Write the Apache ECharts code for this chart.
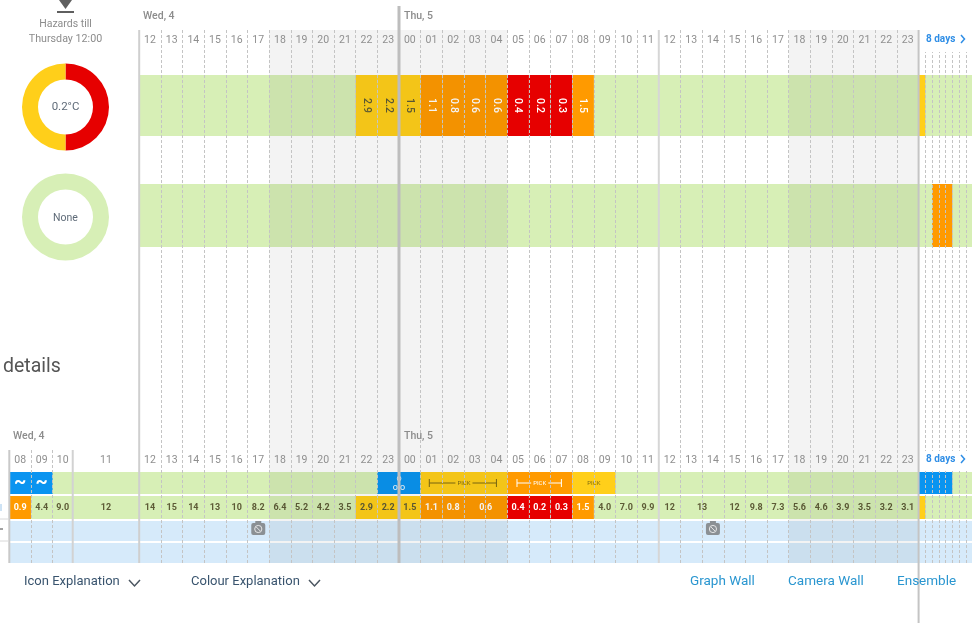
<!DOCTYPE html>
<html>
<head>
<meta charset="utf-8">
<style>
  html, body { margin: 0; padding: 0; background: #fff; }
  #chart { width: 972px; height: 623px; }
</style>
<script src="https://cdn.jsdelivr.net/npm/echarts@6/dist/echarts.min.js"></script>
</head>
<body>
<div id="chart"></div>
<script>
// hours are counted from Wed 00:00, so Thu 00 = 24 and Fri 00 = 48
const hourCols = [8, 9, 10, 11, 12, 13, 14, 15, 16, 17, 18, 19, 20, 21, 22, 23, 24, 25, 26, 27, 28, 29, 30, 31, 32, 33, 34, 35, 36, 37, 38, 39, 40, 41, 42, 43, 44, 45, 46, 47];
const dayCols = [72, 96, 120, 144, 168, 192, 216];
const nightSpans = [[18, 29], [42, 48]];

const hazardShares = [50, 50];
const hazardNames = ['red', 'yellow'];

// top panel, road temperature
const roadHours = [22, 23, 24, 25, 26, 27, 28, 29, 30, 31, 32];
const roadValues = ['2.9', '2.2', '1.5', '1.1', '0.8', '0.6', '0.6', '0.4', '0.2', '0.3', '1.5'];
const roadLevels = ['y', 'y', 'y', 'o', 'o', 'o', 'o', 'r', 'r', 'r', 'o'];
const roadDayFrom = [48];
const roadDayTo = [72];
const roadDayLevels = ['y'];

// top panel, second row
const alertFrom = [96];
const alertTo = [168];
const alertLevels = ['o'];

// bottom panel, weather band
const bandFrom = [8, 9, 23, 25, 29, 32, 48];
const bandTo = [9, 10, 25, 29, 32, 34, 168];
const bandLevels = ['b', 'b', 'b', 'y', 'o', 'y', 'b'];
const bandMarks = ['~', '~', 'o\no o', 'PICK', 'PICK', 'PICK', ''];
const whiskerFrom = [null, null, null, 25.4, 29.45, null, null];
const whiskerTo = [null, null, null, 28.5, 31.5, null, null];

// bottom panel, temperature row
const tempFrom = [8, 9, 10, 11, 12, 13, 14, 15, 16, 17, 18, 19, 20, 21, 22, 23, 24, 25, 26, 27, 29, 30, 31, 32, 33, 34, 35, 36, 37, 39, 40, 41, 42, 43, 44, 45, 46, 47, 48];
const tempTo = [9, 10, 11, 12, 13, 14, 15, 16, 17, 18, 19, 20, 21, 22, 23, 24, 25, 26, 27, 29, 30, 31, 32, 33, 34, 35, 36, 37, 39, 40, 41, 42, 43, 44, 45, 46, 47, 48, 72];
const tempValues = ['0.9', '4.4', '9.0', '12', '14', '15', '14', '13', '10', '8.2', '6.4', '5.2', '4.2', '3.5', '2.9', '2.2', '1.5', '1.1', '0.8', '0.6', '0.4', '0.2', '0.3', '1.5', '4.0', '7.0', '9.9', '12', '13', '12', '9.8', '7.3', '5.6', '4.6', '3.9', '3.5', '3.2', '3.1', ''];
const tempLevels = ['o', 'g', 'g', 'g', 'g', 'g', 'g', 'g', 'g', 'g', 'g', 'g', 'g', 'g', 'y', 'y', 'y', 'o', 'o', 'o', 'r', 'r', 'r', 'o', 'g', 'g', 'g', 'g', 'g', 'g', 'g', 'g', 'g', 'g', 'g', 'g', 'g', 'g', 'y'];

const cameraHours = [17, 38];

const COLORS = { y: '#ffcf1a', o: '#ff9a00', r: '#e60000', b: '#0a94f0', g: 'transparent' };
const GREEN = '#d7efb6';
const SKY = '#d6eafa';
const GREY_TXT = '#8c8c8c';
const LINK = '#2a96d0';

const ORIGIN = 9.3;
const SLOT_W = 21.65;
const WIDTH = 972;
const DAY_SLOT = 0.3115;
const UPPER_LEFT = ORIGIN + 6 * SLOT_W;

// the axis is not linear in time: 11 is a wide column and the days past Fri 00 are narrow
function slot(h) {
  if (h <= 10) return h - 8;
  if (h <= 11) return 2 + (h - 10) * 0.93;
  if (h <= 12) return 2.93 + (h - 11) * 3.07;
  if (h <= 48) return h - 6;
  return 42 + (h - 48) / 24 * DAY_SLOT;
}

const labelSlots = hourCols.map(h => (slot(h) + slot(h + 1)) / 2);
const labelNames = {};
hourCols.forEach((h, i) => {
  labelNames[labelSlots[i].toFixed(2)] = String(h % 24).padStart(2, '0');
});

const grids = [];
const xAxes = [];
const yAxes = [];

function addGrid(left, top, height, bg, xExtra) {
  grids.push({
    left: left, top: top, width: WIDTH - left, height: height,
    show: !!bg, backgroundColor: bg || 'transparent', borderWidth: 0
  });
  xAxes.push(Object.assign({
    gridIndex: grids.length - 1, type: 'value',
    min: (left - ORIGIN) / SLOT_W, max: (WIDTH - ORIGIN) / SLOT_W, show: false
  }, xExtra || {}));
  yAxes.push({ gridIndex: grids.length - 1, type: 'value', min: 0, max: 1, show: false });
  return grids.length - 1;
}

function frameAxis(lines, labels) {
  return {
    show: true, position: 'top', z: 4,
    axisLine: { show: false },
    axisTick: { show: false, customValues: lines },
    splitLine: { show: true, lineStyle: { type: [3, 2], color: '#c4c4c4', width: 1 } },
    axisLabel: {
      show: true, inside: true, margin: 5, customValues: labels,
      color: '#8f8f8f', fontFamily: 'Roboto', fontSize: 10.5,
      formatter: v => labelNames[Number(v).toFixed(2)] || ''
    }
  };
}

const dayLines = dayCols.map(slot);
const upperLines = hourCols.filter(h => h > 12 && h !== 24 && h !== 36).map(slot).concat(dayLines);
const lowerLines = hourCols.filter(h => h !== 8 && h !== 11 && h !== 12 && h !== 24 && h !== 36).map(slot).concat(dayLines);

const gUpper = addGrid(UPPER_LEFT, 30, 418, null, frameAxis(upperLines, labelSlots.filter(s => s >= 6)));
const gLower = addGrid(ORIGIN, 450, 113, null, frameAxis(lowerLines, labelSlots));
const gRoad = addGrid(UPPER_LEFT, 75, 61, GREEN);
const gAlert = addGrid(UPPER_LEFT, 184, 63, GREEN);
const gBand = addGrid(ORIGIN, 472, 22, GREEN);
const gTemp = addGrid(ORIGIN, 496, 23, GREEN);
const gSky1 = addGrid(ORIGIN, 521, 20, SKY);
const gSky2 = addGrid(ORIGIN, 543, 20, SKY);
const gFrame = addGrid(ORIGIN, 0, 623, null);
yAxes[gFrame].min = 0;
yAxes[gFrame].max = 623;
yAxes[gFrame].inverse = true;

function cellBox(api, from, to) {
  const a = api.coord([slot(from), 1]);
  const b = api.coord([slot(to), 0]);
  return { x: a[0], y: a[1], width: b[0] - a[0], height: b[1] - a[1] };
}

function cellSeries(grid, from, to, levels, values, textStyle) {
  return {
    type: 'custom', xAxisIndex: grid, yAxisIndex: grid, z: 2, silent: true,
    data: from.map((f, i) => [slot(f), slot(to[i])]),
    encode: { x: [0, 1] },
    renderItem: (params, api) => {
      const i = params.dataIndex;
      const box = cellBox(api, from[i], to[i]);
      const lvl = levels[i];
      const children = [{ type: 'rect', shape: box, style: { fill: COLORS[lvl] } }];
      const txt = values ? values[i] : '';
      if (txt) {
        children.push({
          type: 'text', x: box.x + box.width / 2, y: box.y + box.height / 2,
          rotation: textStyle.rotation || 0,
          style: {
            text: txt, align: 'center', verticalAlign: 'middle',
            fill: (lvl === 'o' || lvl === 'r') ? '#fff' : '#5d5b36',
            fontFamily: 'Roboto', fontSize: textStyle.fontSize, fontWeight: textStyle.fontWeight
          }
        });
      }
      return { type: 'group', children: children };
    }
  };
}

const bandSeries = {
  type: 'custom', xAxisIndex: gBand, yAxisIndex: gBand, z: 2, silent: true,
  data: bandFrom.map((f, i) => [slot(f), slot(bandTo[i])]),
  encode: { x: [0, 1] },
  renderItem: (params, api) => {
    const i = params.dataIndex;
    const box = cellBox(api, bandFrom[i], bandTo[i]);
    const lvl = bandLevels[i];
    const cx = box.x + box.width / 2;
    const cy = box.y + box.height / 2;
    const children = [{ type: 'rect', shape: box, style: { fill: COLORS[lvl] } }];
    const ink = lvl === 'y' ? '#7d6a12' : '#fff';
    if (whiskerFrom[i] !== null) {
      const x0 = api.coord([slot(whiskerFrom[i]), 0])[0];
      const x1 = api.coord([slot(whiskerTo[i]), 0])[0];
      const line = { stroke: ink, lineWidth: 1 };
      children.push(
        { type: 'line', shape: { x1: x0, y1: cy, x2: x1, y2: cy }, style: line },
        { type: 'line', shape: { x1: x0, y1: cy - 4, x2: x0, y2: cy + 4 }, style: line },
        { type: 'line', shape: { x1: x1, y1: cy - 4, x2: x1, y2: cy + 4 }, style: line }
      );
    }
    const mark = bandMarks[i];
    if (mark) {
      const isPick = mark === 'PICK';
      children.push({
        type: 'text', x: cx, y: cy + (mark === '~' ? -1 : 0),
        style: {
          text: mark, align: 'center', verticalAlign: 'middle',
          fill: ink, fontFamily: 'Roboto',
          fontSize: isPick ? 6 : (mark === '~' ? 19 : 9),
          lineHeight: isPick ? 6 : 9,
          fontWeight: mark === '~' ? 'bold' : 'normal',
          backgroundColor: isPick ? COLORS[lvl] : 'transparent',
          padding: isPick ? [0, 2] : 0
        }
      });
    }
    return { type: 'group', children: children };
  }
};

const cameraSeries = {
  type: 'custom', xAxisIndex: gSky1, yAxisIndex: gSky1, z: 3, silent: true,
  data: cameraHours.map(h => [(slot(h) + slot(h + 1)) / 2]),
  encode: { x: 0 },
  renderItem: (params, api) => {
    const p = api.coord([api.value(0), 0.5]);
    const y = p[1] - 2;
    return {
      type: 'group',
      children: [
        { type: 'rect', shape: { x: p[0] - 7, y: y - 6, width: 14, height: 12, r: 2 }, style: { fill: '#8b9094' } },
        { type: 'rect', shape: { x: p[0] - 3, y: y - 8, width: 6, height: 3 }, style: { fill: '#8b9094' } },
        { type: 'circle', shape: { cx: p[0], cy: y, r: 3.6 }, style: { fill: 'none', stroke: '#e6e6e6', lineWidth: 1 } },
        { type: 'line', shape: { x1: p[0] - 2, y1: y - 2, x2: p[0] + 2, y2: y + 2 }, style: { stroke: '#e6e6e6', lineWidth: 1 } }
      ]
    };
  }
};

const nightSeries = {
  type: 'custom', xAxisIndex: gFrame, yAxisIndex: gFrame, z: 3, silent: true,
  data: nightSpans.map(s => [slot(s[0]), slot(s[1])]),
  encode: { x: [0, 1] },
  renderItem: (params, api) => {
    const a = api.coord([api.value(0), 30]);
    const b = api.coord([api.value(1), 563]);
    return {
      type: 'rect',
      shape: { x: a[0], y: a[1], width: b[0] - a[0], height: b[1] - a[1] },
      style: { fill: 'rgba(0,0,0,0.048)' }
    };
  }
};

// solid column rules: from y, to y, width, colour
const ruleHours = [8, 11, 12, 24, 36, 48];
const ruleStyle = {
  8: [450, 563, 2, '#c9c9c9'],
  11: [450, 563, 2, '#d2d2d2'],
  12: [30, 563, 2, '#cfcfcf'],
  24: [6, 563, 3, '#bdbdbd'],
  36: [30, 563, 2, '#d6d6d6'],
  48: [30, 623, 2, '#c4c4c4']
};
const ruleSeries = {
  type: 'custom', xAxisIndex: gFrame, yAxisIndex: gFrame, z: 5, silent: true,
  data: ruleHours.map(h => [slot(h), h]),
  encode: { x: 0 },
  renderItem: (params, api) => {
    const s = ruleStyle[api.value(1)];
    const a = api.coord([api.value(0), s[0]]);
    const b = api.coord([api.value(0), s[1]]);
    return {
      type: 'line',
      shape: { x1: a[0], y1: a[1], x2: b[0], y2: b[1] },
      style: { stroke: s[3], lineWidth: s[2] }
    };
  }
};

function donut(cy, values, names, colors) {
  return {
    type: 'pie', center: [65.5, cy], radius: [27.5, 43.5], startAngle: 90, clockwise: true,
    silent: true, z: 6, label: { show: false }, labelLine: { show: false },
    data: values.map((v, i) => ({ value: v, name: names[i], itemStyle: { color: colors[i] } }))
  };
}

function txt(x, y, text, fontSize, color, extra) {
  return {
    type: 'text', x: x, y: y, z: 20,
    style: Object.assign({
      text: text, fontSize: fontSize, fill: color, fontFamily: 'Roboto', verticalAlign: 'middle'
    }, extra || {})
  };
}

function chevron(x, y, w, h, color, lw) {
  return {
    type: 'polyline', z: 20,
    shape: { points: [[x, y], [x + w / 2, y + h], [x + w, y]] },
    style: { stroke: color, fill: 'none', lineWidth: lw }
  };
}

function dayChevron(x, y) {
  return {
    type: 'polyline', z: 21,
    shape: { points: [[x, y - 4], [x + 3.5, y], [x, y + 4]] },
    style: { stroke: '#2f8ee6', fill: 'none', lineWidth: 1.5 }
  };
}

const graphics = [
  { type: 'rect', z: 19, shape: { x: 921, y: 30, width: 51, height: 22 }, style: { fill: '#fff' } },
  { type: 'rect', z: 19, shape: { x: 921, y: 451, width: 51, height: 20 }, style: { fill: '#fff' } },
  { type: 'polygon', z: 20, shape: { points: [[59, 0], [72, 0], [65.5, 9]] }, style: { fill: '#5f5f5f' } },
  { type: 'rect', z: 20, shape: { x: 57, y: 11, width: 17, height: 2 }, style: { fill: '#5f5f5f' } },
  txt(65.5, 24, 'Hazards till', 10.5, GREY_TXT, { align: 'center' }),
  txt(65.5, 39, 'Thursday 12:00', 10.7, GREY_TXT, { align: 'center' }),
  txt(65.5, 107, '0.2°C', 11.5, '#5f6b78', { align: 'center' }),
  txt(65.5, 218, 'None', 10.5, '#5f6b78', { align: 'center' }),
  txt(143, 16, 'Wed, 4', 10.5, GREY_TXT, { fontWeight: 500 }),
  txt(404, 16, 'Thu, 5', 10.5, GREY_TXT, { fontWeight: 500 }),
  txt(13, 436, 'Wed, 4', 10.5, GREY_TXT, { fontWeight: 500 }),
  txt(404, 436, 'Thu, 5', 10.5, GREY_TXT, { fontWeight: 500 }),
  txt(926, 39, '8 days', 10, '#2f8ee6', { fontWeight: 'bold' }),
  txt(926, 459, '8 days', 10, '#2f8ee6', { fontWeight: 'bold' }),
  dayChevron(961, 39),
  dayChevron(961, 459),
  txt(3, 367, 'details', 19.5, '#555'),
  txt(24, 582, 'Icon Explanation', 13, '#39546e'),
  chevron(129, 580, 11, 6, '#4a5560', 1.5),
  txt(191, 582, 'Colour Explanation', 13, '#39546e'),
  chevron(309, 580, 11, 6, '#4a5560', 1.5),
  txt(690, 582, 'Graph Wall', 13.5, LINK),
  txt(788, 582, 'Camera Wall', 13.5, LINK),
  txt(897, 582, 'Ensemble', 13.5, LINK),
  { type: 'line', z: 20, shape: { x1: 0, y1: 519, x2: 8, y2: 519 }, style: { stroke: '#d8d8d8', lineWidth: 1 } },
  { type: 'line', z: 20, shape: { x1: 0, y1: 541, x2: 8, y2: 541 }, style: { stroke: '#d8d8d8', lineWidth: 1 } },
  { type: 'line', z: 20, shape: { x1: 0, y1: 529, x2: 3, y2: 529 }, style: { stroke: '#444', lineWidth: 1 } },
  { type: 'line', z: 20, shape: { x1: 1, y1: 504, x2: 1, y2: 511 }, style: { stroke: '#9cc6ea', lineWidth: 1 } }
];

const chart = echarts.init(document.getElementById('chart'), null, { renderer: 'canvas' });
chart.setOption({
  animation: false,
  backgroundColor: '#fff',
  grid: grids,
  xAxis: xAxes,
  yAxis: yAxes,
  graphic: { elements: graphics },
  series: [
    donut(107, hazardShares, hazardNames, ['#e60000', '#ffcf1a']),
    donut(217, [100], ['none'], [GREEN]),
    cellSeries(gRoad, roadHours, roadHours.map(h => h + 1), roadLevels, roadValues,
      { rotation: -Math.PI / 2, fontSize: 10.5, fontWeight: 500 }),
    cellSeries(gRoad, roadDayFrom, roadDayTo, roadDayLevels, null, {}),
    cellSeries(gAlert, alertFrom, alertTo, alertLevels, null, {}),
    bandSeries,
    cellSeries(gTemp, tempFrom, tempTo, tempLevels, tempValues, { fontSize: 9, fontWeight: 'bold' }),
    cameraSeries,
    nightSeries,
    ruleSeries
  ]
});
</script>
</body>
</html>
